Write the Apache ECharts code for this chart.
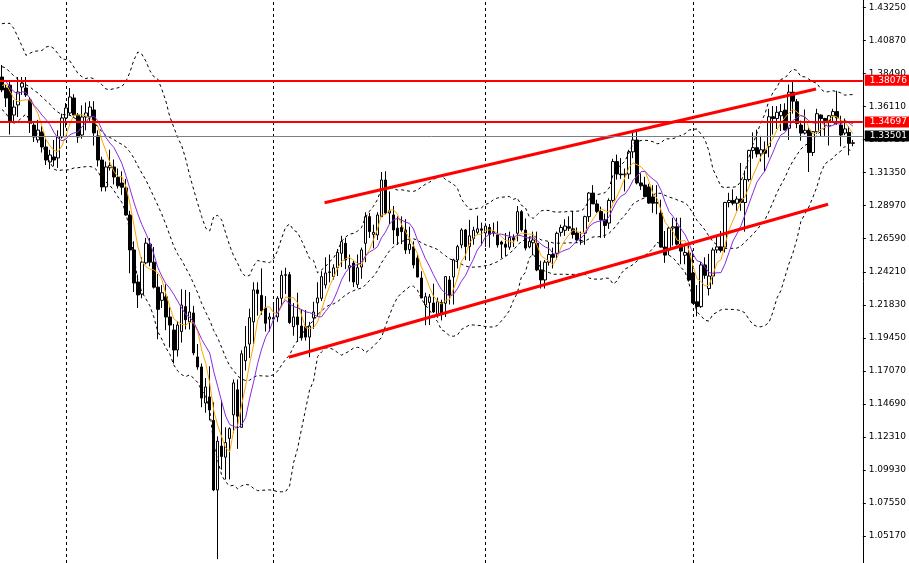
<!DOCTYPE html>
<html><head><meta charset="utf-8">
<script src="https://cdn.jsdelivr.net/npm/echarts@6/dist/echarts.min.js"></script>
<style>html,body{margin:0;padding:0;background:#fff}#c{width:909px;height:563px}</style>
</head><body><div id="c"></div>
<script>
// Weekly candles (first bar: week of 2021-09-12)
const startDate = '2021-09-12';
const opens = [
1.3824,1.3745,1.3765,1.3550,1.3623,1.3752,1.3745,1.3659,1.3478,1.3371,
1.3428,1.3320,1.3212,1.3248,1.3241,1.3392,1.3529,1.3565,1.3673,1.3550,
1.3406,1.3536,1.3536,1.3587,1.3400,1.3226,1.3032,1.3170,1.3176,1.3100,
1.3060,1.3025,1.2830,1.2578,1.2347,1.2260,1.2485,1.2620,1.2490,1.2310,
1.2215,1.2240,1.2095,1.2001,1.1857,1.1990,1.2170,1.2060,1.2124,1.1807,
1.1735,1.1475,1.1519,1.1350,1.0849,1.1165,1.1085,1.1220,1.1390,1.1570,
1.1300,1.1780,1.1900,1.2060,1.2290,1.2250,1.2160,1.2080,1.2090,1.2095,
1.2230,1.2395,1.2400,1.2025,1.2095,1.2030,1.2025,1.1950,1.2088,1.2197,
1.2230,1.2326,1.2415,1.2386,1.2450,1.2554,1.2626,1.2450,1.2484,1.2330,
1.2455,1.2626,1.2818,1.2690,1.2686,1.2818,1.3082,1.2844,1.2830,1.2735,
1.2740,1.2722,1.2580,1.2600,1.2520,1.2376,1.2182,1.2200,1.2196,1.2109,
1.2200,1.2194,1.2362,1.2383,1.2506,1.2614,1.2722,1.2602,1.2660,1.2705,
1.2730,1.2700,1.2740,1.2700,1.2686,1.2635,1.2620,1.2598,1.2668,1.2698,
1.2854,1.2722,1.2600,1.2630,1.2626,1.2434,1.2362,1.2490,1.2545,1.2554,
1.2705,1.2720,1.2745,1.2730,1.2700,1.2645,1.2700,1.2818,1.2988,1.2910,
1.2855,1.2795,1.2772,1.2935,1.3215,1.3125,1.3120,1.3125,1.3285,1.3370,
1.3061,1.3046,1.3032,1.2960,1.2915,1.2844,1.2599,1.2578,1.2736,1.2745,
1.2620,1.2540,1.2556,1.2412,1.2205,1.2170,1.2470,1.2300,1.2390,1.2578,
1.2600,1.2599,1.2920,1.2935,1.2915,1.2945,1.2920,1.3085,1.3295,1.3315,
1.3270,1.3300,1.3322,1.3538,1.3525,1.3545,1.3586,1.3455,1.3715,1.3646,
1.3478,1.3420,1.3440,1.3280,1.3430,1.3550,1.3525,1.3510,1.3545,1.3575,
1.3478,1.3420,1.3425,1.3346];
const highs = [
1.3911,1.3767,1.3790,1.3658,1.3824,1.3824,1.3824,1.3680,1.3500,1.3515,
1.3470,1.3380,1.3300,1.3370,1.3440,1.3560,1.3637,1.3745,1.3700,1.3565,
1.3620,1.3640,1.3650,1.3650,1.3440,1.3250,1.3215,1.3300,1.3230,1.3165,
1.3145,1.3090,1.2860,1.2640,1.2400,1.2525,1.2665,1.2665,1.2600,1.2405,
1.2325,1.2330,1.2165,1.2045,1.2065,1.2295,1.2290,1.2275,1.2175,1.1900,
1.1760,1.1655,1.1740,1.1480,1.1235,1.1495,1.1300,1.1300,1.1645,1.1645,
1.1855,1.2030,1.2155,1.2345,1.2345,1.2445,1.2245,1.2125,1.2180,1.2245,
1.2430,1.2450,1.2420,1.2195,1.2270,1.2150,1.2145,1.2060,1.2205,1.2345,
1.2425,1.2525,1.2545,1.2475,1.2585,1.2680,1.2665,1.2545,1.2500,1.2545,
1.2595,1.2850,1.2845,1.2760,1.2850,1.3140,1.3145,1.3000,1.2895,1.2820,
1.2820,1.2800,1.2745,1.2640,1.2545,1.2425,1.2270,1.2260,1.2335,1.2235,
1.2220,1.2390,1.2390,1.2515,1.2615,1.2735,1.2730,1.2795,1.2745,1.2825,
1.2775,1.2770,1.2765,1.2775,1.2785,1.2645,1.2700,1.2710,1.2690,1.2895,
1.2865,1.2805,1.2675,1.2710,1.2710,1.2500,1.2505,1.2635,1.2595,1.2710,
1.2760,1.2800,1.2820,1.2860,1.2740,1.2710,1.2825,1.2995,1.3045,1.2940,
1.2890,1.2840,1.2950,1.3235,1.3265,1.3240,1.3165,1.3300,1.3435,1.3435,
1.3130,1.3105,1.3055,1.3045,1.3045,1.2940,1.2715,1.2750,1.2810,1.2810,
1.2810,1.2610,1.2610,1.2575,1.2325,1.2490,1.2525,1.2550,1.2595,1.2680,
1.2715,1.2925,1.2990,1.3015,1.2965,1.3205,1.3150,1.3300,1.3425,1.3445,
1.3400,1.3360,1.3595,1.3615,1.3615,1.3630,1.3635,1.3770,1.3790,1.3665,
1.3510,1.3590,1.3465,1.3435,1.3595,1.3555,1.3530,1.3550,1.3595,1.3725,
1.3545,1.3525,1.3470,1.3370];
const lows = [
1.3715,1.3608,1.3410,1.3500,1.3536,1.3695,1.3680,1.3421,1.3356,1.3350,
1.3280,1.3190,1.3160,1.3180,1.3170,1.3380,1.3460,1.3550,1.3530,1.3350,
1.3380,1.3440,1.3500,1.3330,1.3180,1.3000,1.3000,1.3150,1.3050,1.3020,
1.2975,1.2825,1.2410,1.2275,1.2160,1.2230,1.2475,1.2460,1.2300,1.1935,
1.2160,1.2000,1.1875,1.1760,1.1810,1.1910,1.2005,1.2005,1.1820,1.1715,
1.1445,1.1405,1.1350,1.0840,1.0350,1.0995,1.0925,1.0925,1.1260,1.1145,
1.1300,1.1710,1.1800,1.1900,1.2105,1.2110,1.1990,1.1990,1.1840,1.2060,
1.2170,1.2260,1.2045,1.1960,1.1915,1.1925,1.1925,1.1805,1.2010,1.2100,
1.2210,1.2300,1.2345,1.2365,1.2390,1.2455,1.2440,1.2350,1.2310,1.2305,
1.2370,1.2490,1.2665,1.2590,1.2650,1.2815,1.2835,1.2765,1.2620,1.2615,
1.2620,1.2550,1.2550,1.2445,1.2380,1.2230,1.2035,1.2037,1.2125,1.2090,
1.2070,1.2095,1.2185,1.2185,1.2445,1.2590,1.2505,1.2500,1.2615,1.2690,
1.2610,1.2600,1.2595,1.2675,1.2595,1.2520,1.2535,1.2580,1.2600,1.2640,
1.2710,1.2575,1.2590,1.2540,1.2425,1.2300,1.2300,1.2465,1.2445,1.2510,
1.2675,1.2680,1.2715,1.2660,1.2630,1.2615,1.2615,1.2780,1.2910,1.2845,
1.2665,1.2665,1.2730,1.2920,1.3085,1.3090,1.3000,1.3090,1.3240,1.3050,
1.3010,1.2960,1.2910,1.2845,1.2835,1.2595,1.2485,1.2540,1.2610,1.2610,
1.2475,1.2475,1.2350,1.2190,1.2100,1.2160,1.2370,1.2250,1.2330,1.2555,
1.2560,1.2560,1.2885,1.2900,1.2860,1.2860,1.2710,1.3070,1.3235,1.3245,
1.3215,1.3140,1.3245,1.3410,1.3450,1.3435,1.3440,1.3370,1.3560,1.3455,
1.3365,1.3410,1.3140,1.3255,1.3415,1.3395,1.3400,1.3330,1.3495,1.3480,
1.3325,1.3405,1.3260,1.3325];
const closes = [
1.3731,1.3673,1.3500,1.3608,1.3716,1.3780,1.3695,1.3493,1.3392,1.3442,
1.3320,1.3226,1.3262,1.3226,1.3392,1.3529,1.3601,1.3680,1.3550,1.3392,
1.3536,1.3565,1.3608,1.3421,1.3226,1.3032,1.3176,1.3185,1.3104,1.3040,
1.3030,1.2830,1.2578,1.2340,1.2254,1.2490,1.2627,1.2490,1.2310,1.2150,
1.2270,1.2095,1.2037,1.1857,1.2037,1.2181,1.2075,1.2131,1.1836,1.1735,
1.1511,1.1591,1.1425,1.0849,1.1200,1.1090,1.1190,1.1290,1.1620,1.1380,
1.1830,1.1880,1.2090,1.2290,1.2265,1.2140,1.2050,1.2095,1.2080,1.2230,
1.2395,1.2400,1.2055,1.2095,1.2040,1.1945,1.1950,1.2030,1.2131,1.2232,
1.2386,1.2412,1.2420,1.2449,1.2560,1.2638,1.2505,1.2465,1.2347,1.2450,
1.2578,1.2818,1.2710,1.2705,1.2830,1.3082,1.2844,1.2860,1.2722,1.2680,
1.2710,1.2578,1.2620,1.2470,1.2383,1.2232,1.2241,1.2240,1.2131,1.2205,
1.2120,1.2386,1.2254,1.2506,1.2602,1.2722,1.2602,1.2680,1.2720,1.2730,
1.2720,1.2750,1.2690,1.2710,1.2614,1.2620,1.2598,1.2668,1.2650,1.2854,
1.2722,1.2592,1.2640,1.2650,1.2434,1.2362,1.2490,1.2545,1.2525,1.2698,
1.2740,1.2750,1.2735,1.2690,1.2650,1.2645,1.2818,1.2988,1.2910,1.2855,
1.2795,1.2755,1.2935,1.3215,1.3125,1.3120,1.3125,1.3285,1.3370,1.3061,
1.3040,1.2962,1.2916,1.2915,1.2920,1.2599,1.2541,1.2736,1.2745,1.2620,
1.2570,1.2560,1.2361,1.2196,1.2170,1.2470,1.2395,1.2390,1.2578,1.2600,
1.2575,1.2920,1.2935,1.2915,1.2945,1.2920,1.3085,1.3295,1.3315,1.3270,
1.3300,1.3275,1.3538,1.3525,1.3570,1.3575,1.3442,1.3715,1.3650,1.3490,
1.3420,1.3440,1.3280,1.3430,1.3560,1.3525,1.3510,1.3545,1.3575,1.3530,
1.3406,1.3450,1.3346,1.33501];
// closes of the 19 weeks before the first bar (indicator warm-up only)
const priorCloses = [1.3885,1.4095,1.4150,1.4185,1.4155,1.4115,1.3805,1.3885,1.3830,1.3890,
1.3760,1.3760,1.3900,1.3880,1.3870,1.3625,1.3760,1.3865,1.3835];
const emptySlots = 2; // chart shift on the right
const yTicks = [1.05170,1.07550,1.09930,1.12310,1.14690,1.17070,1.19450,1.21830,1.24210,
1.26590,1.28970,1.31350,1.33730,1.36110,1.38490,1.40870,1.43250];
const yMin = 1.03225, yMax = 1.43790;
const levelTop = 1.38076, levelMid = 1.34697, bidPrice = 1.33501;
const separatorBars = [16, 68, 121, 173];
const upperChannel = [[80.75, 1.29185], [203.8, 1.37377]];
const lowerChannel = [[71.8, 1.18046], [206.8, 1.29070]];
const fastPeriod = 5, slowPeriod = 9, bbPeriod = 20, bbDev = 2;

const N = closes.length + emptySlots;
const cats = [];
const d0 = new Date(startDate + 'T00:00:00Z');
for (let i = 0; i < N; i++) {
  const d = new Date(d0.getTime() + i * 7 * 86400000);
  cats.push(d.toISOString().slice(0, 10).replace(/-/g, '.'));
}
const all = priorCloses.concat(closes);
const P = priorCloses.length;
function sma(n) {
  return closes.map((_, i) => {
    const j = i + P; let s = 0;
    for (let k = j - n + 1; k <= j; k++) s += all[k];
    return +(s / n).toFixed(5);
  });
}
function bands(n, dev) {
  const up = [], mid = [], lo = [];
  closes.forEach((_, i) => {
    const j = i + P; let s = 0;
    for (let k = j - n + 1; k <= j; k++) s += all[k];
    const m = s / n; let v = 0;
    for (let k = j - n + 1; k <= j; k++) v += (all[k] - m) * (all[k] - m);
    const sd = Math.sqrt(v / n);
    up.push(+(m + dev * sd).toFixed(5)); mid.push(+m.toFixed(5)); lo.push(+(m - dev * sd).toFixed(5));
  });
  return {up, mid, lo};
}
const fast = sma(fastPeriod), slow = sma(slowPeriod), bb = bands(bbPeriod, bbDev);
const candles = closes.map((c, i) => [opens[i], c, lows[i], highs[i]]);

const FONT = 'DejaVu Sans';
const dash = {color: '#000', width: 1, type: [3, 3]};
function lineSeries(name, data, style, z) {
  return {name, type: 'line', data, symbol: 'none', showSymbol: false, lineStyle: style, z, silent: true, animation: false};
}
function levelLabel(text, bg) {
  return {show: true, position: 'end', distance: 2, formatter: text, color: '#fff', backgroundColor: bg,
    fontFamily: FONT, fontSize: 9, lineHeight: 11, padding: [0, 4, 0, 5]};
}
const chart = echarts.init(document.getElementById('c'), null, {renderer: 'canvas'});
chart.setOption({
  animation: false,
  backgroundColor: '#fff',
  grid: {left: 0, right: 45, top: 0, bottom: 0},
  xAxis: [
    {type: 'category', data: cats, boundaryGap: true, show: false},
    {type: 'value', min: -0.5, max: N - 0.5, show: false}
  ],
  yAxis: {
    type: 'value', position: 'right', min: yMin, max: yMax, scale: true,
    splitLine: {show: false},
    axisLine: {show: true, onZero: false, lineStyle: {color: '#000', width: 1}},
    axisTick: {show: true, inside: false, length: 3, customValues: yTicks, lineStyle: {color: '#000'}},
    axisLabel: {customValues: yTicks, formatter: v => v.toFixed(5), color: '#000', fontFamily: FONT, fontSize: 9, margin: 6}
  },
  series: [
    {
      type: 'line', xAxisIndex: 1, data: [], silent: true, z: 1,
      markLine: {silent: true, symbol: ['none', 'none'], z: 1, label: {show: false},
        lineStyle: {color: '#000', width: 1, type: [3, 3]},
        data: separatorBars.map(b => ({xAxis: b}))}
    },
    {
      type: 'candlestick', data: candles, barWidth: 3, z: 2, clip: false,
      itemStyle: {color: '#fff', color0: '#000', borderColor: '#000', borderColor0: '#000', borderWidth: 1},
      markLine: {silent: true, symbol: ['none', 'none'], z: 6,
        data: [
          {yAxis: bidPrice, lineStyle: {color: '#77808a', width: 1, type: 'solid'}, label: levelLabel(bidPrice.toFixed(5), '#000')},
          {yAxis: levelMid, lineStyle: {color: '#ff0000', width: 2, type: 'solid'}, label: levelLabel(levelMid.toFixed(5), '#ff0000')},
          {yAxis: levelTop, lineStyle: {color: '#ff0000', width: 2, type: 'solid'}, label: levelLabel(levelTop.toFixed(5), '#ff0000')}
        ]}
    },
    lineSeries('BB upper', bb.up, dash, 3),
    lineSeries('BB middle', bb.mid, dash, 3),
    lineSeries('BB lower', bb.lo, dash, 3),
    lineSeries('MA fast', fast, {color: '#ffa500', width: 1}, 4),
    lineSeries('MA slow', slow, {color: '#8a2be2', width: 1}, 4),
    Object.assign(lineSeries('Channel top', upperChannel, {color: '#ff0000', width: 3}, 5), {xAxisIndex: 1}),
    Object.assign(lineSeries('Channel bottom', lowerChannel, {color: '#ff0000', width: 3}, 5), {xAxisIndex: 1})
  ]
});
</script></body></html>
